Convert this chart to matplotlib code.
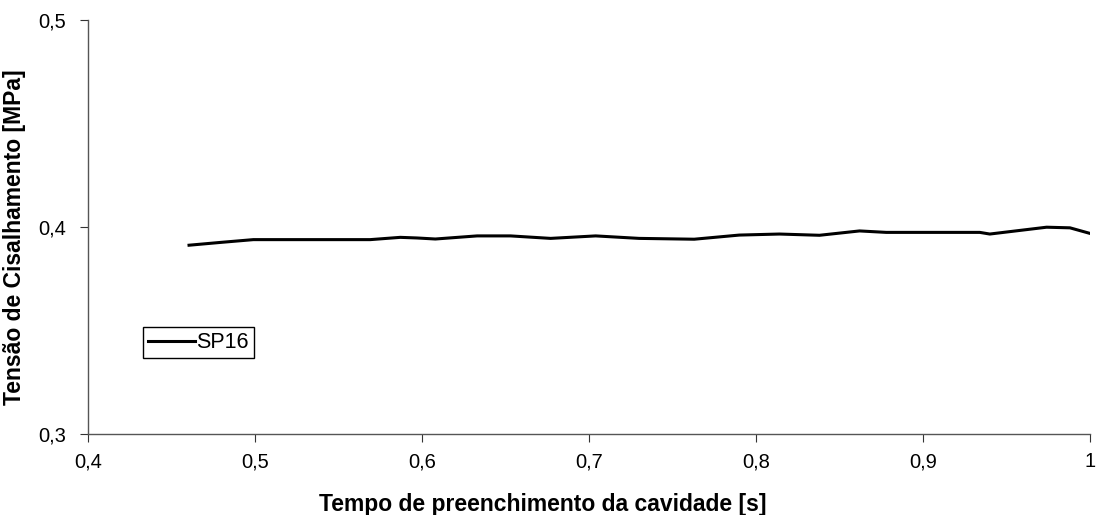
import matplotlib.pyplot as plt
from matplotlib.ticker import FuncFormatter

plt.rcParams['font.family'] = ['Liberation Sans', 'DejaVu Sans']

# valores
tempo = [0.4605, 0.48, 0.499, 0.53, 0.569, 0.587, 0.597, 0.608, 0.633, 0.653,
         0.677, 0.704, 0.730, 0.763, 0.790, 0.814, 0.838, 0.862, 0.878,
         0.934, 0.940, 0.974, 0.988, 1.0]
tensao = [0.3912, 0.3926, 0.3939, 0.3939, 0.3939, 0.3950, 0.3947, 0.3942, 0.3957, 0.3957,
          0.3945, 0.3957, 0.3945, 0.3941, 0.3961, 0.3966, 0.3960, 0.3981, 0.3974,
          0.3974, 0.3966, 0.3999, 0.3996, 0.3969]

xticks = [0.4, 0.5, 0.6, 0.7, 0.8, 0.9, 1.0]
yticks = [0.3, 0.4, 0.5]


def virgula(v, pos):
    s = ('%.1f' % v).replace('.', ',')
    return '1' if s == '1,0' else s


fig = plt.figure(figsize=(10.96, 5.15), dpi=100)
ax = fig.add_axes([88/1096, 1-434/515, 1002/1096, 414/515])

ax.plot(tempo, tensao, color='black', lw=2.2, label='SP16')

ax.set_xlim(0.4, 1.0)
ax.set_ylim(0.3, 0.5)
ax.set_xticks(xticks)
ax.set_yticks(yticks)
ax.xaxis.set_major_formatter(FuncFormatter(virgula))
ax.yaxis.set_major_formatter(FuncFormatter(virgula))

ax.spines['top'].set_visible(False)
ax.spines['right'].set_visible(False)
for s in ['left', 'bottom']:
    ax.spines[s].set_color('#555555')
    ax.spines[s].set_linewidth(1)
ax.tick_params(direction='out', length=6, color='#333333', labelsize=14.5)
ax.tick_params(axis='x', pad=7)
ax.tick_params(axis='y', pad=10)

ax.set_xlabel('Tempo de preenchimento da cavidade [s]', fontsize=16.5, fontweight='bold')
ax.set_ylabel('Tensão de Cisalhamento [MPa]', fontsize=16.5, fontweight='bold')
ax.xaxis.set_label_coords(0.454, -0.1425)
ax.yaxis.set_label_coords(-0.0619, 0.476)

leg = ax.legend(loc='lower left', bbox_to_anchor=(0.055, 0.184), fontsize=15.5,
                fancybox=False, framealpha=1, edgecolor='black', handlelength=2.2,
                handletextpad=0.05, borderpad=0.22, borderaxespad=0)
leg.get_frame().set_linewidth(1)

fig.savefig('out.png', dpi=100)
